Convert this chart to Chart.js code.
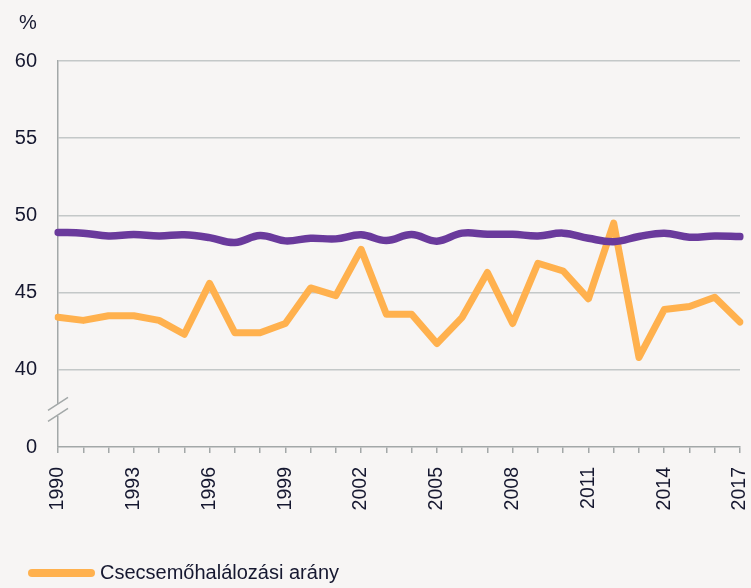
<!DOCTYPE html>
<html>
<head>
<meta charset="utf-8">
<script src="https://cdn.jsdelivr.net/npm/chart.js@4.4.1/dist/chart.umd.min.js"></script>
<style>
  body { margin: 0; background: #f7f5f4; }
  #wrap { position: relative; width: 751px; height: 588px; }
  #legend {
    position: absolute; left: 28px; top: 561px;
    font: 20px "Liberation Sans", Arial, sans-serif; color: #161830;
    display: flex; align-items: center;
  }
  #legend .swatch {
    display: inline-block; width: 67px; height: 8px; border-radius: 4px; margin-right: 5px;
  }
</style>
</head>
<body>
<div id="wrap">
  <canvas id="chart"></canvas>
  <div id="legend"></div>
</div>
<script>
// years on the x axis
const years = [];
for (let y = 1990; y <= 2017; y++) years.push(String(y));

// Csecsemőhalálozási arány (orange)
const infantRate = [43.4, 43.2, 43.5, 43.5, 43.2, 42.3, 45.6, 42.4, 42.4, 43.0,
    45.3, 44.8, 47.8, 43.6, 43.6, 41.7, 43.4, 46.3, 43.0, 46.9,
    46.4, 44.6, 49.5, 40.8, 43.9, 44.1, 44.7, 43.1];

// second series (purple, no legend entry visible)
const secondRate = [48.9, 48.85, 48.67, 48.76, 48.67, 48.74, 48.56, 48.24, 48.7, 48.35,
    48.52, 48.48, 48.74, 48.37, 48.76, 48.33, 48.85, 48.78, 48.78, 48.67,
    48.85, 48.52, 48.3, 48.63, 48.85, 48.59, 48.67, 48.63];

// the axis is broken: 35 on the scale stands for 0
const yTicks = [35, 40, 45, 50, 55, 60];
const yTickLabels = ["0", "40", "45", "50", "55", "60"];

const BG = "#f7f5f4";
const AXIS = "#a3a8a8";
const GRID = "#c4c8c8";
const TEXT = "#161830";
const ORANGE = "#ffb14e";
const PURPLE = "#6a3a9c";

const axisBreak = {
    id: "axisBreak",
    afterDraw(chart) {
        const { ctx, scales } = chart;
        const x = scales.y.left + scales.y.width;
        const yMid = scales.y.getPixelForValue(37.4);
        ctx.save();
        ctx.fillStyle = BG;
        ctx.fillRect(x - 3, yMid - 6, 6, 12);
        ctx.strokeStyle = AXIS;
        ctx.lineWidth = 1.5;
        ctx.beginPath();
        ctx.moveTo(x - 10, yMid + 0.5);
        ctx.lineTo(x + 10, yMid - 12.5);
        ctx.moveTo(x - 10, yMid + 11.5);
        ctx.lineTo(x + 10, yMid - 1.5);
        ctx.stroke();
        // unit label above the y axis
        ctx.fillStyle = TEXT;
        ctx.font = '20px "Liberation Sans", Arial, sans-serif';
        ctx.textAlign = "center";
        ctx.textBaseline = "middle";
        ctx.fillText("%", 28, 23);
        ctx.restore();
    },
};

const chart = new Chart(document.getElementById("chart"), {
    type: "line",
    data: {
        labels: years,
        datasets: [
            {
                label: "",
                data: secondRate,
                borderColor: PURPLE,
                borderWidth: 7.5,
                pointRadius: 0,
                tension: 0.4,
                borderCapStyle: "round",
            },
            {
                label: "Csecsemőhalálozási arány",
                data: infantRate,
                borderColor: ORANGE,
                borderWidth: 7,
                pointRadius: 0,
                tension: 0,
                borderCapStyle: "round",
                borderJoinStyle: "round",
            },
        ],
    },
    options: {
        responsive: true,
        maintainAspectRatio: false,
        animation: false,
        layout: { padding: { top: 61, right: 11, left: 0, bottom: 0 } },
        plugins: { legend: { display: false }, tooltip: { enabled: false } },
        scales: {
            x: {
                offset: false,
                afterFit: (s) => { s.height = 141; s.paddingRight = 0; s.paddingLeft = 0; },
                grid: { drawOnChartArea: false, color: AXIS, tickLength: 6, lineWidth: 1.5 },
                border: { color: AXIS, width: 1.5 },
                ticks: {
                    autoSkip: false,
                    minRotation: 90,
                    maxRotation: 90,
                    padding: 14,
                    color: TEXT,
                    font: { family: '"Liberation Sans", Arial, sans-serif', size: 19.5 },
                    callback: (v, i) => (i % 3 === 0 ? years[i] : ""),
                },
            },
            y: {
                min: 35,
                max: 60,
                afterFit: (s) => { s.width = 58; },
                afterBuildTicks: (s) => { s.ticks = yTicks.map((v) => ({ value: v })); },
                grid: {
                    drawTicks: false,
                    lineWidth: 1.5,
                    color: (c) => (c.tick && c.tick.value === 35 ? "rgba(0,0,0,0)" : GRID),
                },
                border: { color: AXIS, width: 1.5 },
                ticks: {
                    padding: 21,
                    color: TEXT,
                    font: { family: '"Liberation Sans", Arial, sans-serif', size: 20 },
                    callback: (v) => yTickLabels[yTicks.indexOf(v)],
                },
            },
        },
    },
    plugins: [axisBreak],
});

// legend: only the orange series is shown
const legend = document.getElementById("legend");
const ds = chart.data.datasets[1];
legend.innerHTML = '<span class="swatch" style="background:' + ds.borderColor + '"></span>' + ds.label;
</script>
</body>
</html>
